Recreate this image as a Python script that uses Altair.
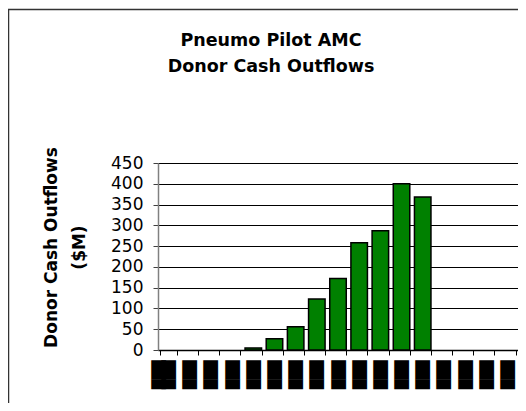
import altair as alt
import pandas as pd

# Period labels (redacted in the reference as solid black boxes)
periods = [str(i) for i in range(1, 18)]
outflows = [None, None, None, None, 5, 27, 56, 123, 172, 258, 287, 400, 368,
            None, None, None, None]
y_ticks = [0, 50, 100, 150, 200, 250, 300, 350, 400, 450]
title_lines = ["Pneumo Pilot AMC", "Donor Cash Outflows"]
y_title = ["Donor Cash Outflows", "($M)"]

df = pd.DataFrame({"period": periods, "outflow": outflows})

W, H = 360, 187
FONT = "DejaVu Sans"

bars = alt.Chart(df).mark_bar(
    fill="#008000", stroke="#000000", strokeWidth=1.5
).encode(
    x=alt.X("period:N", sort=periods,
            scale=alt.Scale(paddingInner=0.22, paddingOuter=0.11),
            axis=alt.Axis(title=None, labelAngle=270, labelAlign="right",
                          labelBaseline="middle", labelExpr="'███'",
                          labelFont=FONT, labelFontSize=12.5, labelColor="#000000",
                          labelPadding=5, labelOverlap=False,
                          tickBand="extent", tickSize=5, tickColor="#000000",
                          domainColor="#000000", domainWidth=1.5, grid=False)),
    y=alt.Y("outflow:Q",
            scale=alt.Scale(domain=[0, 450], nice=False),
            axis=alt.Axis(values=y_ticks, title=y_title,
                          titleFont=FONT, titleFontSize=17, titleFontWeight="bold",
                          titleColor="#000000", titleLineHeight=28,
                          titleAngle=270, titleAlign="center",
                          titleBaseline="alphabetic",
                          titleX=-102, titleY=84,
                          labelFont=FONT, labelFontSize=17, labelColor="#000000",
                          labelPadding=10, tickSize=5, tickColor="#404040",
                          domainColor="#808080", domainWidth=1.5,
                          grid=True, gridColor="#000000", gridWidth=1)),
)

frame = alt.Chart(alt.Data(values=[{}])).mark_rect(
    fill=None, stroke="#333333", strokeWidth=1.5, clip=False
).encode(
    x=alt.value(-149.5), y=alt.value(-153.5),
    x2=alt.value(W + 100), y2=alt.value(H + 100),
)

title = alt.Chart(alt.Data(values=[{}])).mark_text(
    font=FONT, fontSize=17.5, fontWeight="bold", color="#000000",
    align="center", baseline="alphabetic", lineHeight=26, clip=False
).encode(
    x=alt.value(113), y=alt.value(-117),
    text=alt.value(title_lines),
)

chart = alt.layer(frame, bars, title).properties(
    width=W, height=H,
    padding={"left": 150, "top": 155, "right": 0, "bottom": 53},
    autosize=alt.AutoSizeParams(type="none"),
).configure_view(
    fill="#C0C0C0", stroke="#808080", strokeWidth=2
).configure(background="#ffffff")

chart.save("out.html", embed_options={"renderer": "svg", "actions": False})
